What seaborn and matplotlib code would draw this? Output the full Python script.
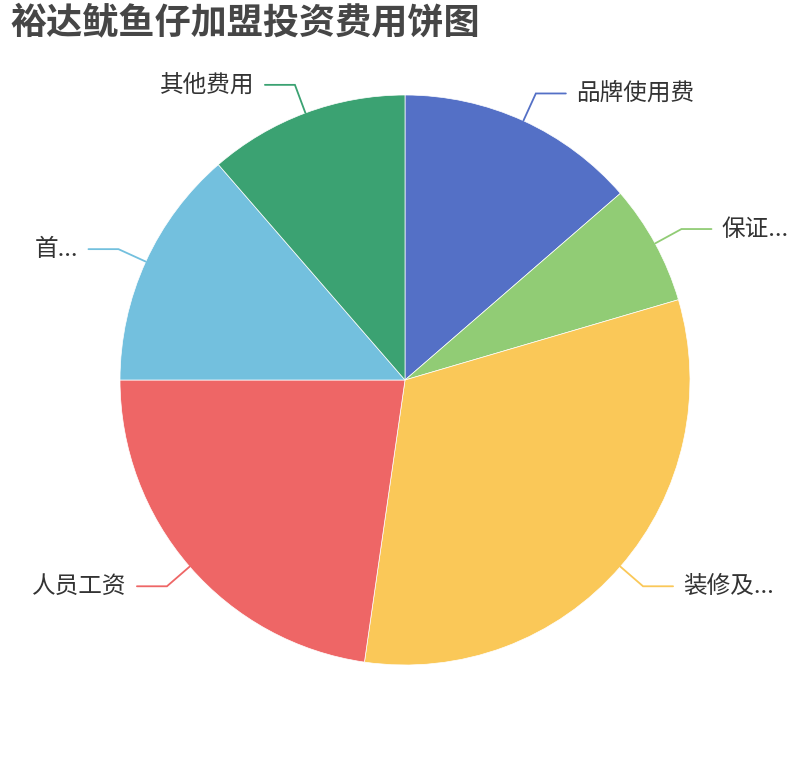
import numpy as np
import matplotlib.pyplot as plt
import seaborn as sns

# data
labels = ["品牌使用费", "保证...", "装修及...", "人员工资", "首...", "其他费用"]
values = [30000, 15000, 70000, 50000, 30000, 25000]
colors = ["#5470c6", "#91cc75", "#fac858", "#ee6666", "#73c0de", "#3ba272"]

sns.set_theme(style="white")
plt.rcParams['font.family'] = ['Noto Sans CJK SC', 'DejaVu Sans']

W, H = 810, 760
cx, cy, r = 405, H - 380, 285

fig = plt.figure(figsize=(W / 100, H / 100), dpi=100)
ax = fig.add_axes([0, 0, 1, 1])

wedges, _ = ax.pie(values, colors=sns.color_palette(colors), startangle=90,
                   counterclock=False, center=(cx, cy), radius=r,
                   wedgeprops=dict(linewidth=0.5, edgecolor="white"))

# leader lines like echarts: radial 30px, horizontal 30px, gap 10px
for w, lab, col in zip(wedges, labels, colors):
    mid = np.deg2rad((w.theta1 + w.theta2) / 2)
    c, s = np.cos(mid), np.sin(mid)
    x0, y0 = cx + r * c, cy + r * s
    x1, y1 = cx + (r + 30) * c, cy + (r + 30) * s
    side = 1 if c >= 0 else -1
    x2 = x1 + side * 30
    ax.plot([x0, x1, x2], [y0, y1, y1], color=col, lw=1.3, solid_joinstyle="miter")
    ax.text(x2 + side * 10, y1, lab, ha="left" if side > 0 else "right",
            va="center", fontsize=17, color="#333333")

ax.set_xlim(0, W)
ax.set_ylim(0, H)
ax.axis("off")

fig.text(10 / W, 1 - 4 / H, "裕达鱿鱼仔加盟投资费用饼图", ha="left", va="top",
         fontsize=26, fontweight="bold", color="#464646")

fig.savefig("out.png", dpi=100)
